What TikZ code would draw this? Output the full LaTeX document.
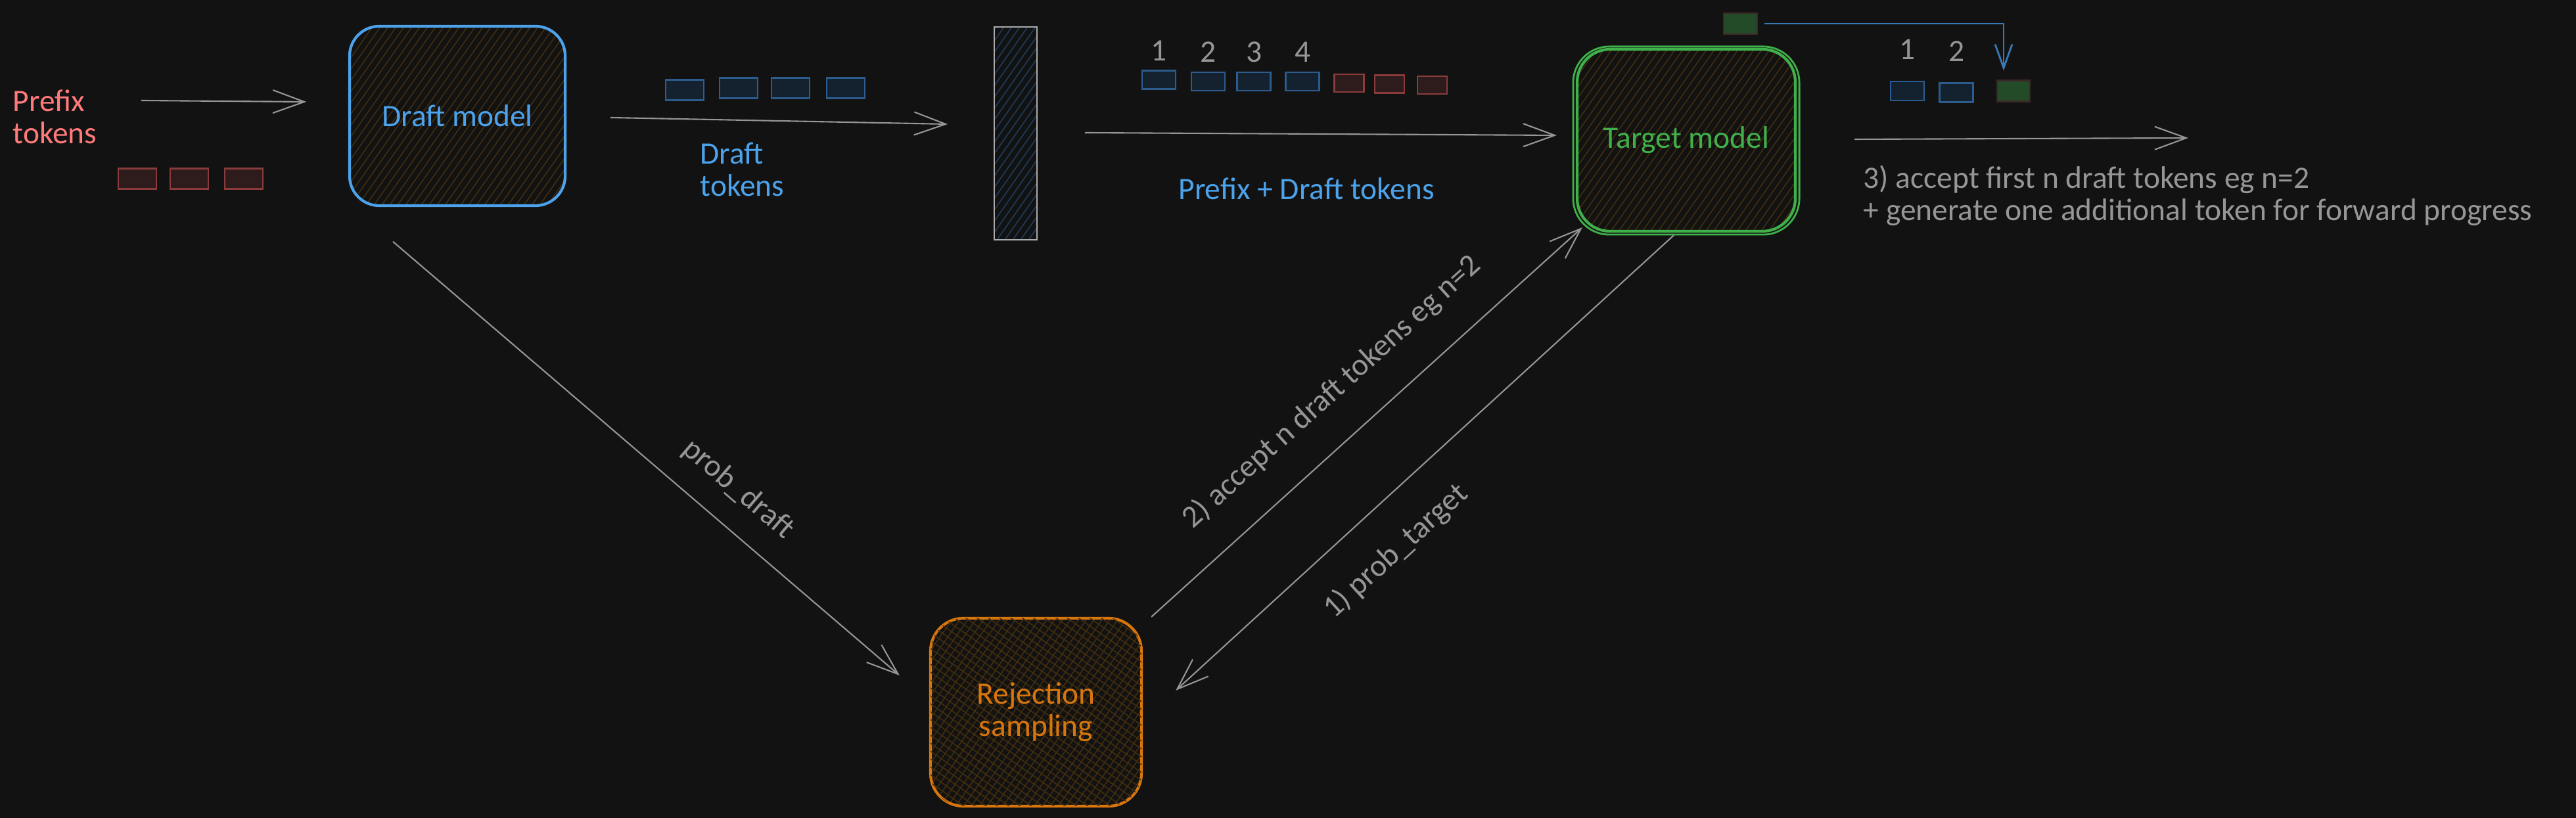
\documentclass[tikz,border=0pt]{standalone}
\usepackage{fontspec}
\setmainfont{Carlito}
\usetikzlibrary{arrows.meta,positioning,patterns.meta}
\definecolor{bgdark}{RGB}{18,18,18}
\definecolor{sdblue}{RGB}{76,163,235}
\definecolor{sdred}{RGB}{255,122,122}
\definecolor{sdgreen}{RGB}{64,176,74}
\definecolor{sdorange}{RGB}{216,118,14}
\definecolor{sdgray}{RGB}{150,150,150}
\definecolor{hatchbrown}{RGB}{66,46,14}
\definecolor{hatchblue}{RGB}{30,58,88}
\definecolor{tokblueline}{RGB}{44,92,142}
\definecolor{tokbluefill}{RGB}{20,34,47}
\definecolor{tokredline}{RGB}{138,60,60}
\definecolor{tokredfill}{RGB}{46,28,28}
\definecolor{tokgreenfill}{RGB}{36,75,40}
\definecolor{tokgreenline}{RGB}{60,40,40}
\definecolor{linkblue}{RGB}{58,120,181}
\newcommand{\handfont}{\fontsize{13.5}{14}\selectfont}

\begin{document}
\begin{tikzpicture}[
  model/.style={draw, line width=1.2pt, rounded corners=0.45cm, inner sep=0pt, align=center, font=\handfont},
  hatch/.style={pattern={Lines[angle=55,distance=2.8pt,line width=0.45pt]}, pattern color=hatchbrown},
  tok/.style={minimum width=0.58cm, minimum height=0.31cm, inner sep=0pt, line width=0.8pt},
  bluetok/.style={tok, draw=tokblueline, fill=tokbluefill},
  redtok/.style={tok, draw=tokredline, fill=tokredfill},
  greentok/.style={tok, draw=tokgreenline, fill=tokgreenfill},
  flow/.style={draw=sdgray, line width=0.6pt, -{Straight Barb[length=4.8mm,width=3.5mm]}},
  lbl/.style={font=\handfont, text=sdgray, inner sep=2pt},
]
% dark canvas
\fill[bgdark] (0,0) rectangle (39.2,12.45);
\useasboundingbox (0,0) rectangle (39.2,12.45);

% Prefix tokens on the left
\node[font=\handfont, text=sdred, align=left, anchor=west, inner sep=0pt] (prefix) at (0.19,10.67) {Prefix\\tokens};
\foreach \x [count=\i] in {2.09,2.88,3.71}
  \node[redtok] (pt\i) at (\x,9.73) {};

% Draft model
\node[model, draw=sdblue, text=sdblue, hatch, minimum width=3.28cm, minimum height=2.73cm] (draft) at (6.96,10.685) {Draft model};
\draw[flow] ([xshift=0.67cm,yshift=0.25cm]prefix.east) -- ([xshift=-0.65cm,yshift=0.215cm]draft.west);

% Draft tokens
\foreach \x/\y [count=\i] in {10.42/11.08,11.24/11.11,12.03/11.11,12.87/11.11}
  \node[bluetok] (dt\i) at (\x,\y) {};
\node[font=\handfont, text=sdblue, align=left, anchor=west, inner sep=0pt] (dtlabel) at (10.65,9.87) {Draft\\tokens};

% Concatenation bar
\node[draw=sdgray!80, line width=0.8pt, pattern={Lines[angle=55,distance=2.8pt,line width=0.5pt]}, pattern color=hatchblue,
      minimum width=0.65cm, minimum height=3.24cm, inner sep=0pt] (bar) at (15.455,10.42) {};
\draw[flow] ([xshift=0.68cm,yshift=-0.025cm]draft.east) -- ([xshift=-0.70cm,yshift=0.14cm]bar.west);

% Target model (sketchy double outline)
\node[model, draw=sdgreen, text=sdgreen, hatch, rounded corners=0.5cm, minimum width=3.32cm, minimum height=2.77cm] (target) at (25.66,10.315) {Target model};
\draw[sdgreen, line width=0.8pt, rounded corners=0.55cm] ([shift={(-0.04,-0.03)}]target.south west) rectangle ([shift={(0.04,0.02)}]target.north east);

% Prefix + draft tokens
\foreach \x/\y [count=\i] in {17.635/11.235,18.385/11.21,19.08/11.21,19.82/11.21} {
  \node[bluetok, minimum width=0.51cm, minimum height=0.28cm] (pd\i) at (\x,\y) {};
  \node[lbl, inner sep=0pt, above=0.13cm of pd\i] (pdn\i) {\i};
}
\foreach \x/\y [count=\i] in {20.53/11.185,21.145/11.17,21.795/11.155}
  \node[redtok, minimum width=0.45cm, minimum height=0.27cm] (pr\i) at (\x,\y) {};
\node[font=\handfont, text=sdblue] (pdlabel) at (19.88,9.58) {Prefix + Draft tokens};
\draw[flow] ([xshift=0.72cm,yshift=0.01cm]bar.east) -- ([xshift=-0.29cm,yshift=0.075cm]target.west);

% Accepted tokens + one new token
\node[greentok, minimum width=0.51cm, minimum height=0.32cm] (newtok) at (26.485,12.09) {};
\foreach \x/\y [count=\i] in {29.025/11.065,29.77/11.04} {
  \node[bluetok, minimum width=0.51cm, minimum height=0.29cm] (acc\i) at (\x,\y) {};
  \node[lbl, inner sep=0pt, above=0.31cm of acc\i] (accn\i) {\i};
}
\node[greentok, minimum width=0.50cm, minimum height=0.32cm] (acc3) at (30.64,11.065) {};
\draw[linkblue, line width=0.8pt, -{Straight Barb[length=3.6mm,width=2.6mm]}] ([xshift=0.1cm]newtok.east) -| ([xshift=-0.15cm,yshift=0.135cm]acc3.north);

% Output
\coordinate (out) at (33.30,10.35);
\draw[flow] ([xshift=0.88cm,yshift=0.015cm]target.east) -- (out);
\node[lbl, inner sep=0pt, anchor=west, align=left] (note) at (28.35,9.47) {3) accept first n draft tokens eg n=2\\+ generate one additional token for forward progress};

% Rejection sampling (cross hatch)
\node[model, draw=sdorange, text=sdorange, hatch, rounded corners=0.5cm,
      postaction={pattern={Lines[angle=-35,distance=2.8pt,line width=0.45pt]}, pattern color=hatchbrown},
      minimum width=3.21cm, minimum height=2.86cm] (rej) at (15.765,1.61) {Rejection\\sampling};

% Probabilities and acceptance
\draw[flow] ([xshift=-0.98cm,yshift=-0.54cm]draft.south) -- node[lbl, sloped, pos=0.635, above=0.27cm] (pdlbl) {prob\_draft} ([xshift=-0.45cm,yshift=0.56cm]rej.west);
\draw[flow] ([xshift=0.13cm]rej.north east) -- node[lbl, sloped, pos=0.49, above=0.4cm] (acclbl) {2) accept n draft tokens eg n=2} ([xshift=0.10cm,yshift=0.08cm]target.south west);
\draw[flow] ([xshift=-0.19cm,yshift=-0.04cm]target.south) -- node[lbl, sloped, pos=0.62, below=0.4cm] (ptlbl) {1) prob\_target} ([xshift=0.50cm,yshift=0.33cm]rej.east);
\end{tikzpicture}
\end{document}
